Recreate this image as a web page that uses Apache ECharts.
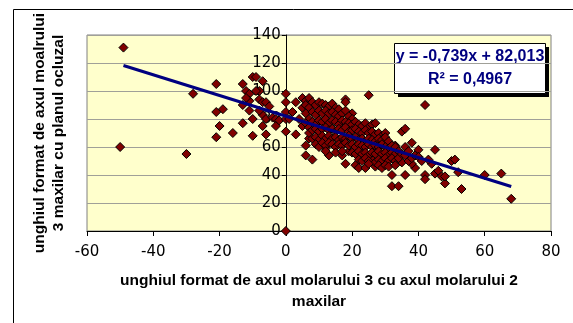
<!DOCTYPE html>
<html>
<head>
<meta charset="utf-8">
<script src="https://cdn.jsdelivr.net/npm/echarts@6/dist/echarts.min.js"></script>
<style>
  html, body { margin: 0; padding: 0; background: #fff; }
  #chart { width: 573px; height: 323px; }
</style>
</head>
<body>
<div id="chart"></div>
<script>
// angle pairs [molar 3 / molar 2 angle, molar 3 / occlusal plane angle]
const points = [
  [-49, 131], [-50, 60], [-30, 55], [-28, 98], [-21, 105], [-21, 85], [-19, 87], [-20, 75], [-21, 67], [-16, 70],
  [-13, 105], [-13, 90], [-13, 77], [-12, 100], [-11, 98], [-11, 86], [-11, 93], [-10, 110], [-9, 110], [-10, 80],
  [-10, 68], [-8, 100], [-7, 107], [-8, 94], [-7, 92], [-6, 92], [-5, 89], [-7, 83], [-6, 80], [-7, 75],
  [-6, 69], [-8, 86], [-4, 81], [-3, 80], [-3, 75], [-2, 79], [-9, 100], [-12, 95],
  [0, 98], [0, 92], [0, 85], [0, 71], [0, 0], [0, 80],
  [1, 80], [2, 85], [3, 92], [3, 69], [4, 80], [5, 75], [7, 66], [6, 61], [6, 54], [8, 51],
  [12, 59], [13, 54], [17, 54], [18, 48], [19, 57], [21, 47], [26, 51], [27, 46], [29, 47],
  [18, 94], [18, 92], [20, 84], [25, 97], [42, 90], [33, 61],
  [32, 40], [32, 32], [34, 32], [36, 40], [35, 49], [35, 71], [36, 73], [38, 63], [40, 58], [39, 45],
  [38, 48], [42, 40], [42, 37], [45, 58], [44, 48], [45, 41], [46, 43], [47, 39], [48, 34], [48, 39],
  [50, 50], [51, 51], [52, 42], [53, 30], [60, 40], [65, 41], [68, 23],
  [5, 95], [6, 93], [7, 95], [5, 88], [6, 90], [7, 88], [8, 92], [9, 90], [10, 92], [11, 91],
  [12, 90], [13, 89], [14, 91], [15, 88], [16, 87],
  [6, 84], [7, 80], [8, 85], [9, 83], [10, 86], [11, 84], [12, 86], [13, 84], [14, 85], [15, 83],
  [16, 82], [17, 84], [18, 86], [19, 82], [20, 80],
  [6, 77], [7, 74], [8, 78], [9, 76], [10, 79], [11, 78], [12, 80], [13, 77], [14, 79], [15, 78],
  [16, 76], [17, 79], [18, 78], [19, 77], [20, 76], [21, 78], [22, 76], [23, 75], [24, 77], [25, 74],
  [26, 76], [27, 77],
  [7, 70], [8, 72], [9, 73], [10, 71], [11, 73], [12, 74], [13, 72], [14, 73], [15, 71], [16, 73],
  [17, 72], [18, 74], [19, 71], [20, 72], [21, 73], [22, 71], [23, 70], [24, 72], [25, 70], [26, 71],
  [27, 69], [28, 70], [29, 68], [30, 70],
  [8, 66], [9, 67], [10, 65], [11, 68], [12, 66], [13, 68], [14, 66], [15, 67], [16, 65], [17, 67],
  [18, 66], [19, 68], [20, 66], [21, 67], [22, 65], [23, 66], [24, 64], [25, 66], [26, 65], [27, 64],
  [28, 66], [29, 65], [30, 67], [31, 64],
  [9, 62], [10, 60], [11, 63], [12, 61], [13, 63], [14, 62], [15, 60], [16, 62], [17, 61], [18, 63],
  [19, 61], [20, 62], [21, 60], [22, 62], [23, 61], [24, 60], [25, 62], [26, 60], [27, 61], [28, 60],
  [29, 62], [30, 60], [31, 59], [32, 61], [33, 60],
  [12, 57], [15, 56], [17, 57], [20, 56], [21, 55], [22, 57], [23, 55], [24, 56], [25, 54], [26, 56],
  [27, 55], [28, 57], [29, 55], [30, 56], [31, 54], [32, 56], [33, 55], [34, 57],
  [22, 51], [23, 50], [24, 52], [25, 50], [27, 49], [28, 51], [29, 50], [30, 52], [31, 50], [32, 52],
  [33, 50], [34, 52], [35, 55],
  [22, 45], [24, 45], [25, 48], [28, 47], [29, 45], [30, 47], [31, 46], [33, 47],
  [36, 54], [37, 50], [38, 52], [39, 54], [40, 53], [41, 50], [43, 51], [36, 60], [37, 57]
];

const xTicks = { min: -60, max: 80, step: 20 };
const yTicks = { min: 0, max: 140, step: 20 };

// linear trendline reported by the spreadsheet
const trendSlope = -0.739;
const trendIntercept = 82.013;
const trendRange = [-49, 68];
const trendLabel = 'y = -0,739x + 82,013';
const r2Label = 'R² = 0,4967';

const xTitle = 'unghiul format de axul molarului 3 cu axul molarului 2\nmaxilar';
const yTitle = 'unghiul format de axul moalrului\n3 maxilar cu planul ocluzal';

const trendData = trendRange.map(x => [x, trendSlope * x + trendIntercept]);

const gridLeft = 87, gridRight = 22;
const plotWidth = 573 - gridLeft - gridRight;
// y axis crosses the x axis at x = 0, Excel style (onZero keeps labels at the edge in v6)
const yAxisShift = plotWidth * (0 - xTicks.min) / (xTicks.max - xTicks.min);

const chart = echarts.init(document.getElementById('chart'));

const tickFont = { color: '#000', fontFamily: 'DejaVu Sans', fontSize: 15 };

chart.setOption({
  animation: false,
  backgroundColor: '#fff',
  grid: {
    left: gridLeft, right: gridRight, top: 35, bottom: 92,
    show: true,
    backgroundColor: '#ffffcc',
    borderColor: '#808080',
    borderWidth: 1
  },
  xAxis: {
    type: 'value',
    min: xTicks.min, max: xTicks.max, interval: xTicks.step,
    axisLine: { onZero: false, lineStyle: { color: '#000', width: 1 } },
    axisTick: { show: true, inside: false, length: 5, lineStyle: { color: '#000' } },
    axisLabel: Object.assign({ margin: 14 }, tickFont),
    splitLine: { show: false },
    name: xTitle,
    nameLocation: 'middle',
    nameGap: 39,
    nameTextStyle: {
      color: '#000', fontFamily: 'Liberation Sans', fontWeight: 'bold',
      fontSize: 15.5, lineHeight: 21
    }
  },
  yAxis: {
    type: 'value',
    position: 'left',
    offset: -yAxisShift,
    min: yTicks.min, max: yTicks.max, interval: yTicks.step,
    axisLine: { show: true, onZero: false, lineStyle: { color: '#000', width: 1 } },
    axisTick: { show: true, inside: false, length: 4, lineStyle: { color: '#000' } },
    axisLabel: Object.assign({ margin: 5 }, tickFont),
    splitLine: { show: true, lineStyle: { color: '#a0a098', width: 1 } }
  },
  graphic: [
    {
      type: 'rect',
      shape: { x: 13.5, y: 9.5, width: 600, height: 400 },
      style: { fill: 'none', stroke: '#000', lineWidth: 1 },
      silent: true
    },
    {
      type: 'text',
      x: 49, y: 133,
      rotation: Math.PI / 2,
      style: {
        text: yTitle,
        fill: '#000',
        font: 'bold 15.5px "Liberation Sans"',
        lineHeight: 19,
        align: 'center',
        verticalAlign: 'middle'
      },
      silent: true
    },
    {
      type: 'group',
      x: 394, y: 43,
      z: 100,
      children: [
        { type: 'rect', shape: { x: 4, y: 4, width: 151, height: 50 }, style: { fill: '#000' } },
        { type: 'rect', shape: { x: 0.5, y: 0.5, width: 151, height: 50 }, style: { fill: '#fff', stroke: '#000', lineWidth: 1 } },
        {
          type: 'text', x: 76, y: 14,
          style: { text: trendLabel, fill: '#000080', font: 'bold 16px "Liberation Sans"', align: 'center', verticalAlign: 'middle' }
        },
        {
          type: 'text', x: 76, y: 37,
          style: { text: r2Label, fill: '#000080', font: 'bold 16px "Liberation Sans"', align: 'center', verticalAlign: 'middle' }
        }
      ]
    }
  ],
  series: [
    {
      type: 'scatter',
      data: points,
      symbol: 'diamond',
      symbolSize: 9,
      itemStyle: { color: '#800000', borderColor: '#000', borderWidth: 1, opacity: 1 },
      silent: true
    },
    {
      type: 'line',
      data: trendData,
      showSymbol: false,
      symbol: 'none',
      lineStyle: { color: '#000080', width: 3 },
      silent: true,
      z: 5
    }
  ]
});
</script>
</body>
</html>
